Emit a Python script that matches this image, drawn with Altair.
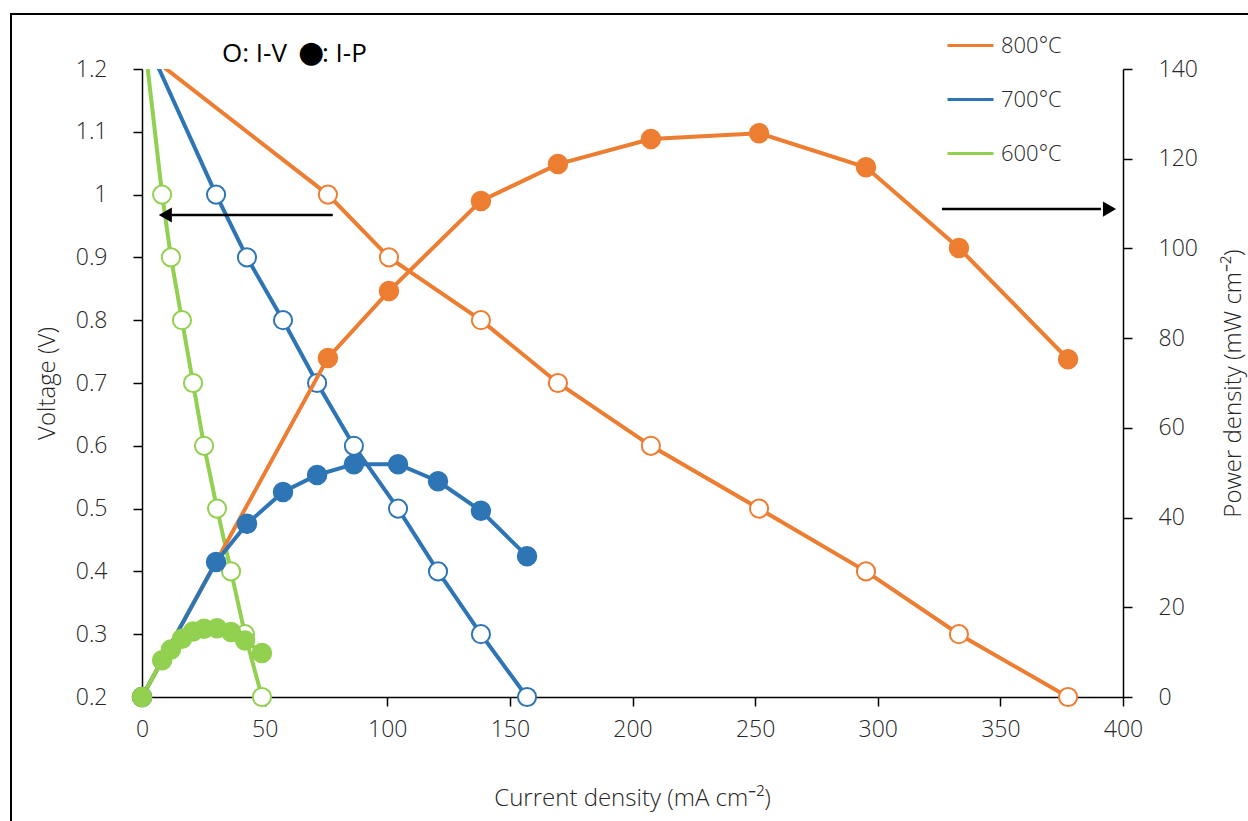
import altair as alt
import pandas as pd

temps = ["800°C", "700°C", "600°C"]
colors = ["#ED7D31", "#2E75B6", "#92D050"]

# current density (mA cm-2), voltage (V), power density (mW cm-2)
I_800 = [0, 75.8, 100.7, 138.2, 169.6, 207.5, 251.6, 295.2, 333.1, 377.6]
V_800 = [1.23, 1.0, 0.9, 0.8, 0.7, 0.6, 0.5, 0.4, 0.3, 0.2]
P_800 = [0, 75.6, 90.5, 110.6, 118.8, 124.4, 125.7, 118.1, 100.1, 75.3]

I_700 = [0, 30.2, 42.8, 57.5, 71.4, 86.4, 104.4, 120.7, 138.2, 157.0]
V_700 = [1.26, 1.0, 0.9, 0.8, 0.7, 0.6, 0.5, 0.4, 0.3, 0.2]
P_700 = [0, 30.1, 38.6, 45.7, 49.5, 51.9, 51.9, 48.1, 41.5, 31.4]

I_600 = [0, 8.2, 11.8, 16.3, 20.8, 25.3, 30.6, 36.3, 42.0, 48.9]
V_600 = [1.28, 1.0, 0.9, 0.8, 0.7, 0.6, 0.5, 0.4, 0.3, 0.2]
P_600 = [0, 8.2, 10.6, 13.0, 14.6, 15.2, 15.3, 14.5, 12.6, 9.8]

x_ticks = [0, 50, 100, 150, 200, 250, 300, 350, 400]
v_ticks = [0.2, 0.3, 0.4, 0.5, 0.6, 0.7, 0.8, 0.9, 1.0, 1.1, 1.2]
p_ticks = [0, 20, 40, 60, 80, 100, 120, 140]

# annotation arrows (data coordinates on the voltage scale)
arrow_x_start = [77.8, 326.2]
arrow_x_end = [12.0, 391.0]
arrow_tip_x = [9.5, 394.5]
arrow_y = [0.9675, 0.977]
arrow_shape = ["triangle-left", "triangle-right"]

rows = []
for t, I, V, P in [(temps[0], I_800, V_800, P_800),
                   (temps[1], I_700, V_700, P_700),
                   (temps[2], I_600, V_600, P_600)]:
    for i, v, p in zip(I, V, P):
        rows.append({"temp": t, "I": i, "V": v, "P": p, "ord": temps.index(t)})
df = pd.DataFrame(rows)

arrows = pd.DataFrame({"x1": arrow_x_start, "x2": arrow_x_end, "tip": arrow_tip_x,
                       "y": arrow_y, "shape": arrow_shape})

FONT = "Open Sans"
TXT = "#262626"

xscale = alt.Scale(domain=[0, 400], nice=False)
vscale = alt.Scale(domain=[0.2, 1.2], nice=False, zero=False)

xenc = alt.X("I:Q", scale=xscale,
             axis=alt.Axis(values=x_ticks, title="Current density (mA cm⁻²)",
                           titleX=490, titleY=101, titleBaseline="middle",
                           labelPadding=12, labelFlush=False))
yV = alt.Y("V:Q", scale=vscale,
           axis=alt.Axis(values=v_ticks, format="~g", title="Voltage (V)",
                         titleAngle=270, titleX=-95, titleY=314, titleBaseline="middle",
                         labelPadding=26, orient="left", labelFlush=False))
yP = alt.Y("P:Q", scale=alt.Scale(domain=[0, 140], nice=False),
           axis=alt.Axis(values=p_ticks, title="Power density (mW cm⁻²)",
                         titleAngle=270, titleX=110, titleY=314, titleBaseline="middle",
                         labelPadding=26, orient="right", labelFlush=False))

cscale = alt.Scale(domain=temps, range=colors)
color_leg = alt.Color("temp:N", scale=cscale, sort=temps,
                      legend=alt.Legend(orient="none", legendX=804, legendY=-48,
                                        direction="vertical", title=None,
                                        symbolType="stroke", symbolSize=2116,
                                        symbolStrokeWidth=3, labelFontSize=22,
                                        labelFont=FONT, labelFontWeight=300,
                                        labelColor=TXT, rowPadding=18,
                                        labelOffset=6, padding=0))
color_nl = alt.Color("temp:N", scale=cscale, legend=None)
stroke_nl = alt.Stroke("temp:N", scale=cscale, legend=None)

base = alt.Chart(df)

iv_lines = base.mark_line(strokeWidth=4, clip=True).encode(
    x=xenc, y=yV, color=color_leg, detail="temp:N")
iv_pts = base.transform_filter(alt.datum.V <= 1.2).mark_point(
    shape="circle", filled=True, fill="white", fillOpacity=1,
    strokeWidth=2, size=330, opacity=1).encode(
    x=xenc, y=yV, stroke=stroke_nl, order=alt.Order("ord:Q", sort="ascending"))

arrow_lines = alt.Chart(arrows).mark_rule(color="black", strokeWidth=2.5).encode(
    x=alt.X("x1:Q", scale=xscale), x2="x2:Q",
    y=alt.Y("y:Q", scale=vscale))
arrow_heads = alt.Chart(arrows).mark_point(filled=True, color="black", size=230,
                                          opacity=1).encode(
    x=alt.X("tip:Q", scale=xscale),
    y=alt.Y("y:Q", scale=vscale),
    shape=alt.Shape("shape:N", scale=None, legend=None))

left = alt.layer(iv_lines, iv_pts, arrow_lines, arrow_heads)

ip_lines = base.mark_line(strokeWidth=4).encode(
    x=xenc, y=yP, color=color_nl, detail="temp:N")
ip_pts = base.mark_circle(size=420, opacity=1).encode(
    x=xenc, y=yP, color=color_nl, order=alt.Order("ord:Q", sort="ascending"))

right = alt.layer(ip_lines, ip_pts)

one = pd.DataFrame({"a": [0]})
note1 = alt.Chart(one).mark_text(
    font=FONT, fontSize=26, color="black", align="left", baseline="middle",
    text="O: I-V").encode(x=alt.value(80), y=alt.value(-15))
note2 = alt.Chart(one).mark_text(
    font="DejaVu Sans", fontSize=30, color="black", align="center", baseline="middle",
    text="●").encode(x=alt.value(169), y=alt.value(-16))
note3 = alt.Chart(one).mark_text(
    font=FONT, fontSize=26, color="black", align="left", baseline="middle",
    text=":  I-P").encode(x=alt.value(180), y=alt.value(-15))

frame = alt.Chart(one).mark_rect(
    fill="transparent", stroke="black", strokeWidth=2, clip=False).encode(
    x=alt.value(-131), x2=alt.value(1130), y=alt.value(-55), y2=alt.value(770))

chart = alt.layer(frame, left, right, note1, note2, note3).resolve_scale(
    y="independent", color="independent", stroke="independent", shape="independent"
).properties(
    width=981, height=628,
    autosize=alt.AutoSizeParams(type="none"),
    padding={"left": 142, "top": 69, "right": 125, "bottom": 124},
    background="white",
).configure_view(strokeWidth=0).configure_axis(
    domainColor="black", domainWidth=1.5, tickColor="black", tickWidth=1.5,
    tickSize=9, grid=False, labelFont=FONT, labelFontSize=23, labelFontWeight=300,
    labelColor=TXT, titleFont=FONT, titleFontSize=24, titleColor=TXT,
    titleFontWeight=300,
)

chart.save("out.html", embed_options={"renderer": "svg", "actions": False})
